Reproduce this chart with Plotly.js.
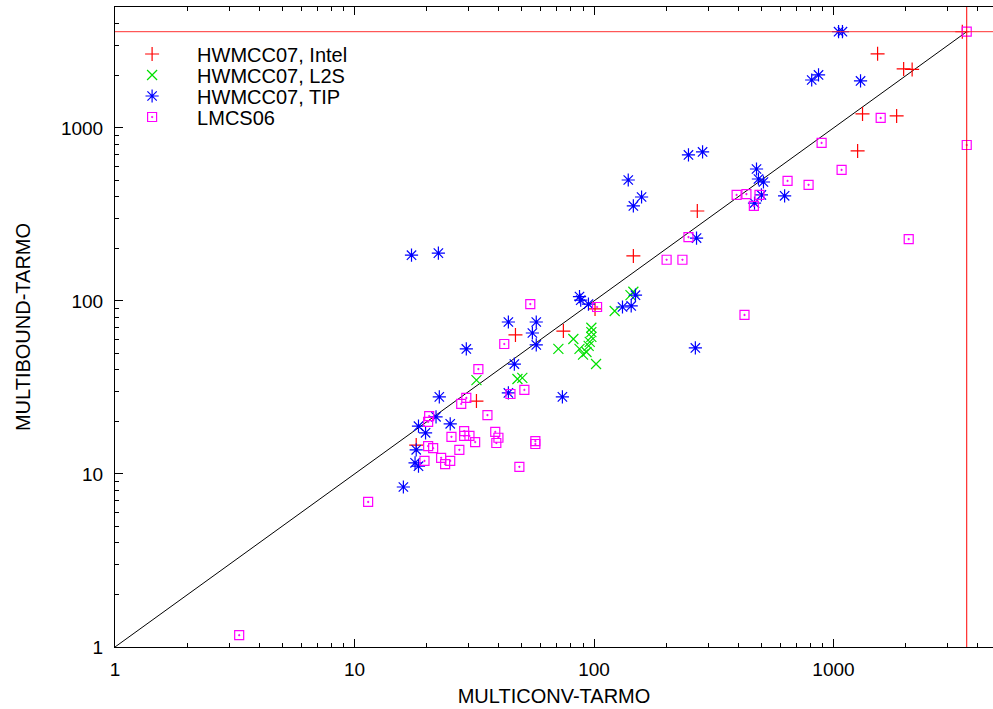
<!DOCTYPE html>
<html>
<head>
<meta charset="utf-8">
<script src="https://cdn.plot.ly/plotly-3.0.1.min.js"></script>
<style>html,body{margin:0;padding:0;background:#fff;}#chart{width:993px;height:709px;}</style>
</head>
<body>
<div id="chart"></div>
<script>
const TIMEOUT = 3600;

const intelX = [3450, 1528, 1963, 2130, 1322, 1835, 1261, 270, 146, 101, 74.5, 47, 32.3, 18.1];
const intelY = [3600, 2680, 2193, 2180, 1205, 1173, 736, 331, 182, 90, 67, 63.6, 26.4, 14.7];

const l2sX = [32.3, 47.9, 50.2, 71, 82, 87, 93, 90, 97.5, 97.5, 97.5, 96, 95, 102, 122, 142, 146];
const l2sY = [34.9, 35.4, 35.9, 52.8, 60.3, 52.8, 50.7, 49, 70, 66, 62, 58, 55, 43.2, 87.5, 108, 113];

const tipX = [1050, 1090, 811, 866, 1297, 248, 284, 477, 486, 510, 500, 625, 468, 268, 139, 158, 146,
  17.3, 22.4, 265, 87, 88, 94.8, 131.5, 143, 149, 43.9, 57.4, 55.3, 57.4, 29.3, 46.5,
  43.9, 73.8, 22.6, 21.9, 18.5, 25.1, 19.8, 18.1, 17.9, 18.5, 16.0];
const tipY = [3600, 3600, 1893, 2024, 1870, 698, 727, 579, 507, 487, 410, 405, 368, 231, 500, 399, 354,
  184, 189, 53.5, 106, 101, 96, 92.3, 93.6, 108, 75.6, 75.6, 65.3, 55.7, 52.8, 43.2,
  29.4, 27.9, 27.9, 21.4, 18.9, 19.5, 17.3, 13.8, 11.6, 11.1, 8.41];

const lmcsX = [3600, 3600, 1574, 892, 1081, 643, 787, 394, 433, 491, 465, 248, 201, 234, 2061, 425,
  54.2, 103, 42.2, 32.9, 51.2, 44.8, 29.3, 27.9, 35.9, 20.5, 20.3, 38.7, 39.9, 39.1,
  28.7, 28.7, 30.2, 31.9, 25.4, 56.9, 56.9, 20.3, 21.3, 27.4, 23.0, 23.9, 25.1, 19.6,
  48.8, 11.4, 3.3];
const lmcsY = [3600, 797, 1142, 819, 572, 494, 469, 410, 415, 410, 354, 234, 173, 173, 228, 83,
  96, 92.3, 56.4, 40.4, 30.6, 29, 27.5, 25.4, 21.9, 21.6, 20, 17.5, 16.2, 15.1,
  17.7, 16.6, 16.6, 15.3, 16.4, 15.5, 14.9, 14.5, 14.1, 13.8, 12.4, 11.4, 11.9, 11.9,
  11.0, 6.89, 1.17];

const diagX = [1, TIMEOUT];
const diagY = [1, TIMEOUT];

const majorTicks = [1, 10, 100, 1000];
const majorLabels = ['1', '10', '100', '1000'];
const minorMultipliers = [2, 3, 4, 5, 6, 7, 8, 9];
const minorTicks = [];
majorTicks.forEach(d => minorMultipliers.forEach(m => minorTicks.push(d * m)));

const FONT = 'Liberation Sans, Arial, sans-serif';
const X_RANGE = [0, 3.666];
const Y_RANGE = [0, 3.699];

const traces = [
  {x: diagX, y: diagY, mode: 'lines', line: {color: '#000', width: 1}, showlegend: false, hoverinfo: 'skip'},
  {x: intelX, y: intelY, mode: 'markers', name: 'HWMCC07, Intel', legend: 'legend',
   marker: {symbol: 'cross-thin-open', size: 10, color: '#ff0000', line: {color: '#ff0000', width: 1.2}}},
  {x: l2sX, y: l2sY, mode: 'markers', name: 'HWMCC07, L2S', legend: 'legend2',
   marker: {symbol: 'x-thin-open', size: 10, color: '#00e000', line: {color: '#00e000', width: 1.2}}},
  {x: tipX, y: tipY, mode: 'markers', name: 'HWMCC07, TIP', legend: 'legend3',
   marker: {symbol: 'asterisk-open', size: 11, color: '#0000ff', line: {color: '#0000ff', width: 1.2}}},
  {x: lmcsX, y: lmcsY, mode: 'markers', name: 'LMCS06', legend: 'legend4',
   marker: {symbol: 'square-open-dot', size: 9, color: '#ff00ff', line: {color: '#ff00ff', width: 1.2}}},
  // carrier for the minor-tick overlay axes
  {x: diagX, y: diagY, xaxis: 'x2', yaxis: 'y2', mode: 'lines', line: {color: 'rgba(0,0,0,0)', width: 0},
   showlegend: false, hoverinfo: 'skip'}
];

const axisCommon = {
  type: 'log', showgrid: false, zeroline: false,
  showline: true, linecolor: '#000', linewidth: 1,
  ticks: 'inside', ticklen: 8, tickcolor: '#000', tickwidth: 1,
  tickmode: 'array', tickvals: majorTicks, ticktext: majorLabels,
  tickfont: {family: FONT, size: 19, color: '#000'}
};

const minorAxis = {
  type: 'log', showgrid: false, zeroline: false, showline: false,
  ticks: 'inside', ticklen: 4, tickcolor: '#000', tickwidth: 1,
  tickmode: 'array', tickvals: minorTicks, showticklabels: false
};

function legendAt(yPaper) {
  return {
    x: -0.009, y: yPaper, xanchor: 'left', yanchor: 'middle',
    bgcolor: 'rgba(0,0,0,0)', borderwidth: 0,
    font: {family: FONT, size: 20, color: '#000'},
    itemwidth: 80
  };
}
// row centres at pixel y = 54, 75, 96, 117 in a plot area spanning y 7..647
const rowY = [54, 75, 96, 117].map(p => 1 - (p - 7) / 640);

const layout = {
  width: 993, height: 709,
  margin: {l: 115, r: 0, t: 7, b: 62},
  paper_bgcolor: '#fff', plot_bgcolor: '#fff',
  font: {family: FONT, color: '#000'},
  xaxis: Object.assign({}, axisCommon, {
    range: X_RANGE, mirror: 'ticks', ticklabelstandoff: 5,
    title: {text: 'MULTICONV-TARMO', font: {family: FONT, size: 20, color: '#000'}, standoff: 10}
  }),
  yaxis: Object.assign({}, axisCommon, {
    range: Y_RANGE, mirror: false, ticklabelstandoff: 7,
    title: {text: 'MULTIBOUND-TARMO', font: {family: FONT, size: 20, color: '#000'}, standoff: 24}
  }),
  xaxis2: Object.assign({}, minorAxis, {range: X_RANGE, overlaying: 'x', anchor: 'y', side: 'bottom', mirror: 'ticks'}),
  yaxis2: Object.assign({}, minorAxis, {range: Y_RANGE, overlaying: 'y', anchor: 'x', side: 'left', mirror: false}),
  legend: legendAt(rowY[0]),
  legend2: legendAt(rowY[1]),
  legend3: legendAt(rowY[2]),
  legend4: legendAt(rowY[3]),
  shapes: [
    {type: 'line', xref: 'paper', x0: 0, x1: 1, yref: 'y', y0: TIMEOUT, y1: TIMEOUT, line: {color: '#ff3030', width: 1}},
    {type: 'line', yref: 'paper', y0: 0, y1: 1, xref: 'x', x0: TIMEOUT, x1: TIMEOUT, line: {color: '#ff0000', width: 1}}
  ]
};

Plotly.newPlot('chart', traces, layout, {staticPlot: true, displayModeBar: false});
</script>
</body>
</html>
